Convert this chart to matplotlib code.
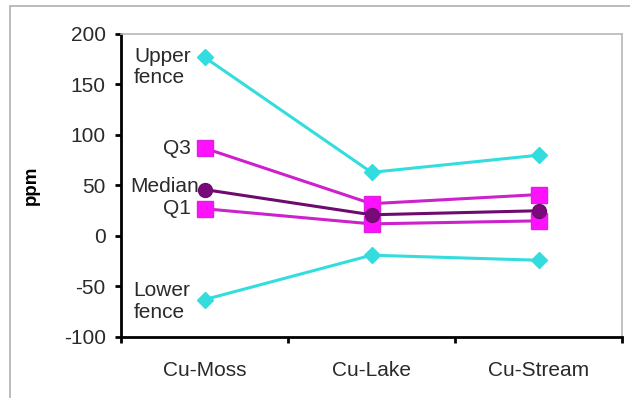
import matplotlib
matplotlib.use('Agg')
import matplotlib.pyplot as plt
from matplotlib.patches import Rectangle

plt.rcParams['font.family'] = ['Liberation Sans', 'DejaVu Sans']
plt.rcParams['axes.unicode_minus'] = False

categories = ['Cu-Moss', 'Cu-Lake', 'Cu-Stream']
upperFence = [177, 63, 80]
q3 = [87, 32, 41]
median = [46, 21, 25]
q1 = [27, 12, 15]
lowerFence = [-63, -19, -24]

cyan = '#33dddd'
purple = '#6e0b6e'
txt = '#2a2a2a'

fig = plt.figure(figsize=(6.3, 3.98), dpi=100)
# outer chart frame
fig.patches.append(Rectangle((10/630, -0.05), 0.99, 1 - 6/398 + 0.05, transform=fig.transFigure,
                             fill=False, edgecolor='#b0b0b0', lw=1.2))
ax = fig.add_axes([121/630, 1 - 337/398, (622 - 121)/630, (337 - 34)/398])

x = range(len(categories))
ax.plot(x, upperFence, color=cyan, lw=2.2, marker='D', ms=8, mfc=cyan, mec=cyan, zorder=3)
ax.plot(x, lowerFence, color=cyan, lw=2.2, marker='D', ms=8, mfc=cyan, mec=cyan, zorder=3)
ax.plot(x, q3, color='#cc22cc', lw=2.2, marker='s', ms=11, mfc='#ff11ff', mec='#dd22dd', zorder=3)
ax.plot(x, q1, color='#cc22cc', lw=2.2, marker='s', ms=11, mfc='#ff11ff', mec='#dd22dd', zorder=4)
ax.plot(x, median, color=purple, lw=2.2, marker='o', ms=10, mfc='#7a0a7a', mec=purple, zorder=5)

ax.set_xlim(-0.5, 2.5)
ax.set_ylim(-100, 200)
ax.set_yticks(range(-100, 201, 50))
ax.set_xticks([-0.5, 0.5, 1.5, 2.5])
ax.set_xticklabels([])
ax.set_xticks(list(x), minor=True)
ax.set_xticklabels(categories, minor=True)
ax.tick_params(axis='x', which='minor', length=0, pad=17, labelsize=15, labelcolor=txt)
ax.tick_params(axis='x', which='major', direction='out', length=4, width=2)
ax.tick_params(axis='y', direction='out', length=4, width=2, labelsize=15, pad=7, labelcolor=txt)

ax.spines['left'].set_linewidth(2)
ax.spines['bottom'].set_linewidth(2)
ax.spines['top'].set_color('#b8b8b8')
ax.spines['right'].set_color('#b8b8b8')
ax.spines['top'].set_linewidth(1.2)
ax.spines['right'].set_linewidth(1.2)

ax.set_ylabel('ppm', fontsize=13.5, fontweight='bold', color='black')
ax.yaxis.set_label_coords(-0.162, 0.5)

kw = dict(textcoords='offset pixels', ha='right', va='center', fontsize=15, color=txt,
          multialignment='left')
ax.annotate('Upper\nfence', (0, upperFence[0]), xytext=(-14, -10), linespacing=1.12, **kw)
ax.annotate('Q3', (0, q3[0]), xytext=(-14, 0), **kw)
ax.annotate('Median', (0, median[0]), xytext=(-6, 3), **kw)
ax.annotate('Q1', (0, q1[0]), xytext=(-14, 0), **kw)
ax.annotate('Lower\nfence', (0, lowerFence[0]), xytext=(-14, -2), linespacing=1.22, **kw)

fig.savefig('out.png', dpi=100)
